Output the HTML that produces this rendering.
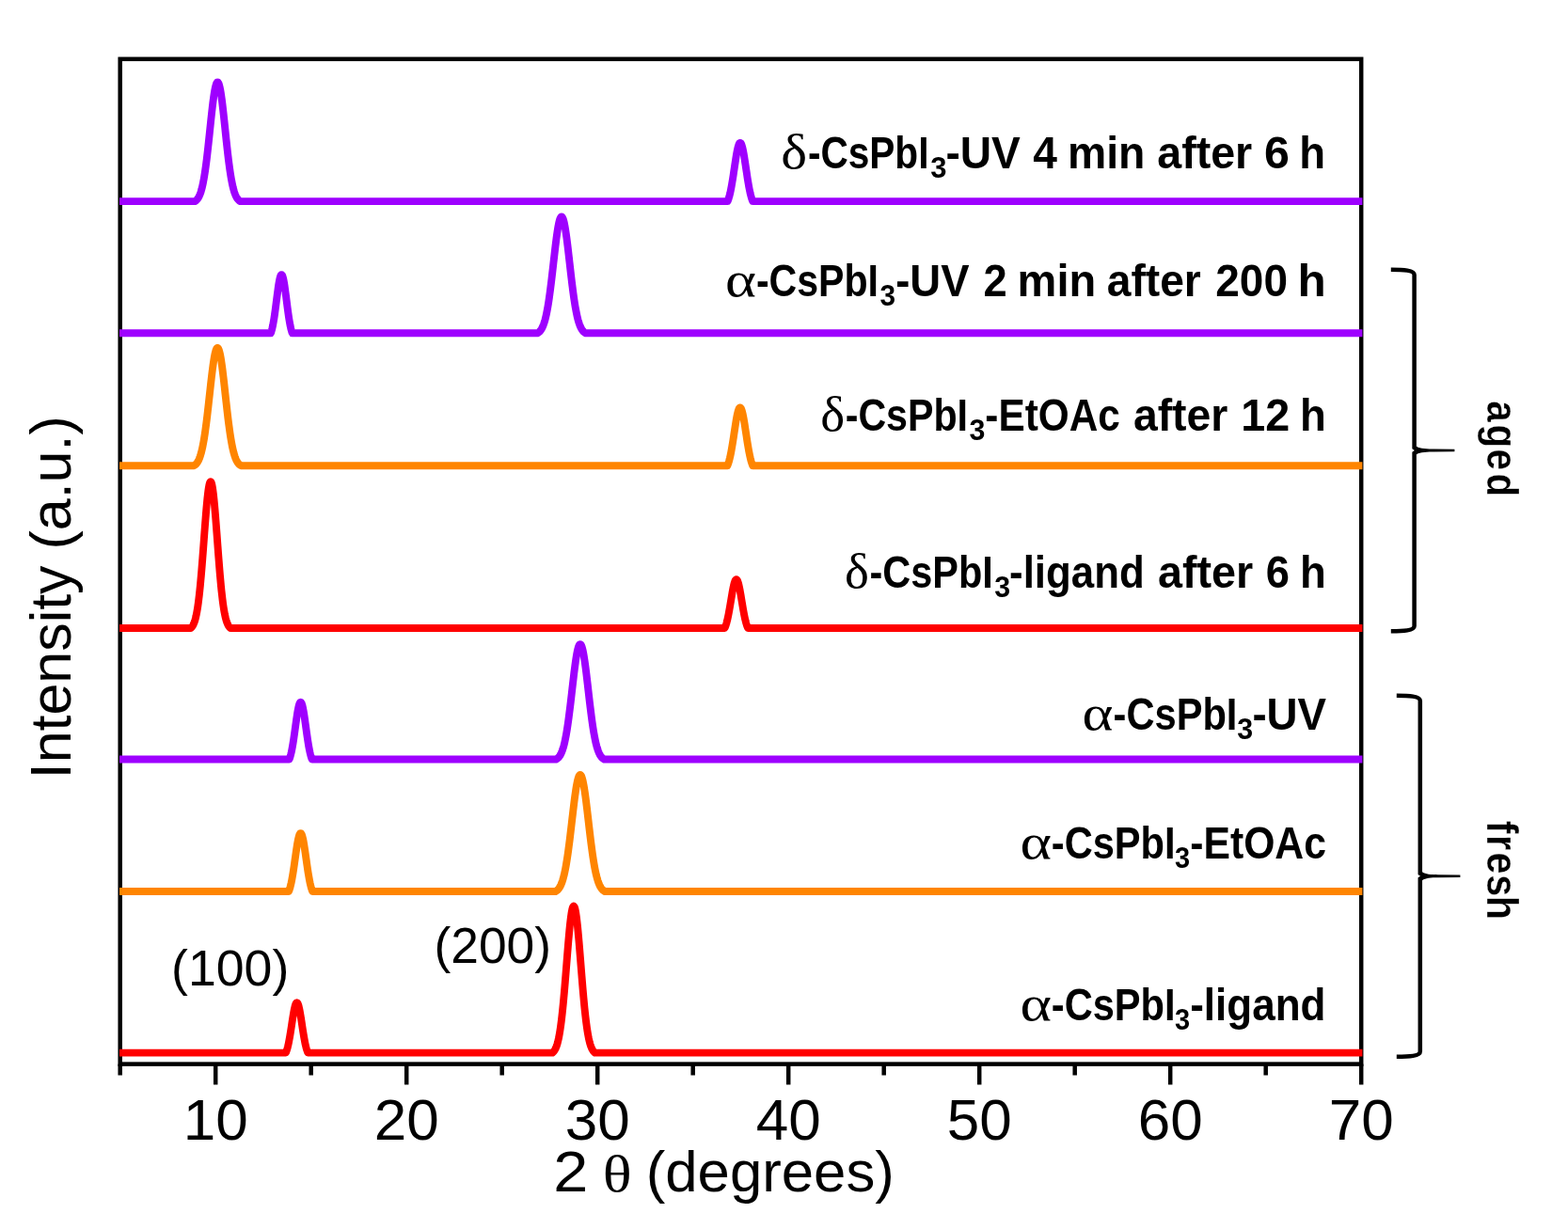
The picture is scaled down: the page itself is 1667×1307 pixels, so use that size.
<!DOCTYPE html>
<html lang="en">
<head>
<meta charset="utf-8">
<style>
html, body { margin: 0; padding: 0; background: #ffffff; }
body { width: 1667px; height: 1307px; overflow: hidden; }
svg { display: block; }
text { fill: #000; }
.ax { font-family: "Liberation Sans", Arial, Helvetica, sans-serif; font-size: 61px; font-kerning: none; }
.lb { font-family: "Liberation Sans", Arial, Helvetica, sans-serif; font-weight: bold; font-size: 48px; font-kerning: none; }
.gk { font-family: "Liberation Serif", "DejaVu Serif", serif; font-weight: normal; font-size: 52px; stroke: none; }
.sb { font-family: "Liberation Sans", Arial, Helvetica, sans-serif; font-weight: bold; font-size: 32px; font-kerning: none; }
.th { font-family: "Liberation Serif", "DejaVu Serif", serif; font-size: 55px; }
.hk { font-family: "Liberation Sans", Arial, Helvetica, sans-serif; font-size: 54px; font-kerning: none; }
.rt { font-family: "Liberation Sans", Arial, Helvetica, sans-serif; font-weight: bold; font-size: 46px; font-kerning: none; stroke: #fff; stroke-width: 0.3px; }
</style>
</head>
<body>
<svg width="1667" height="1307" viewBox="0 0 1667 1307">
<rect x="0" y="0" width="1667" height="1307" fill="#ffffff"/>

<g stroke="#000" stroke-width="4.5" fill="none" stroke-linecap="butt">
<rect x="127.7" y="62.8" width="1319.5" height="1068.8"/>
<line x1="127.70" y1="1131.6" x2="127.70" y2="1143.5"/>
<line x1="229.20" y1="1131.6" x2="229.20" y2="1153.5"/>
<line x1="330.70" y1="1131.6" x2="330.70" y2="1143.5"/>
<line x1="432.20" y1="1131.6" x2="432.20" y2="1153.5"/>
<line x1="533.70" y1="1131.6" x2="533.70" y2="1143.5"/>
<line x1="635.20" y1="1131.6" x2="635.20" y2="1153.5"/>
<line x1="736.70" y1="1131.6" x2="736.70" y2="1143.5"/>
<line x1="838.20" y1="1131.6" x2="838.20" y2="1153.5"/>
<line x1="939.70" y1="1131.6" x2="939.70" y2="1143.5"/>
<line x1="1041.20" y1="1131.6" x2="1041.20" y2="1153.5"/>
<line x1="1142.70" y1="1131.6" x2="1142.70" y2="1143.5"/>
<line x1="1244.20" y1="1131.6" x2="1244.20" y2="1153.5"/>
<line x1="1345.70" y1="1131.6" x2="1345.70" y2="1143.5"/>
<line x1="1447.20" y1="1131.6" x2="1447.20" y2="1153.5"/>
</g>
<g fill="none" stroke-width="7.9" stroke-linejoin="round" stroke-linecap="butt">
<path stroke="#9e00ff" d="M127.00,214.10 L207.21,214.10 L207.71,213.79 L208.21,213.43 L208.71,213.01 L209.22,212.52 L209.72,211.95 L210.22,211.30 L210.72,210.55 L211.22,209.69 L211.73,208.72 L212.23,207.62 L212.73,206.38 L213.23,204.98 L213.73,203.43 L214.24,201.70 L214.74,199.79 L215.24,197.68 L215.74,195.37 L216.24,192.85 L216.75,190.12 L217.25,187.17 L217.75,184.00 L218.25,180.61 L218.75,177.01 L219.25,173.19 L219.76,169.19 L220.26,165.00 L220.76,160.64 L221.26,156.14 L221.76,151.51 L222.27,146.79 L222.77,142.00 L223.27,137.19 L223.77,132.38 L224.27,127.61 L224.78,122.93 L225.28,118.37 L225.78,113.98 L226.28,109.80 L226.78,105.87 L227.28,102.23 L227.79,98.91 L228.29,95.96 L228.79,93.41 L229.29,91.28 L229.79,89.60 L230.30,88.38 L230.80,87.65 L231.30,87.40 L231.80,87.65 L232.30,88.38 L232.81,89.60 L233.31,91.28 L233.81,93.41 L234.31,95.96 L234.81,98.91 L235.32,102.23 L235.82,105.87 L236.32,109.80 L236.82,113.98 L237.32,118.37 L237.82,122.93 L238.33,127.61 L238.83,132.38 L239.33,137.19 L239.83,142.00 L240.33,146.79 L240.84,151.51 L241.34,156.14 L241.84,160.64 L242.34,165.00 L242.84,169.19 L243.35,173.19 L243.85,177.01 L244.35,180.61 L244.85,184.00 L245.35,187.17 L245.85,190.12 L246.36,192.85 L246.86,195.37 L247.36,197.68 L247.86,199.79 L248.36,201.70 L248.87,203.43 L249.37,204.98 L249.87,206.38 L250.37,207.62 L250.87,208.72 L251.38,209.69 L251.88,210.55 L252.38,211.30 L252.88,211.95 L253.38,212.52 L253.89,213.01 L254.39,213.43 L254.89,213.79 L255.39,214.10 L773.60,214.10 L774.10,212.81 L774.60,211.35 L775.10,209.70 L775.60,207.86 L776.11,205.82 L776.61,203.57 L777.11,201.13 L777.61,198.49 L778.11,195.66 L778.62,192.67 L779.12,189.54 L779.62,186.28 L780.12,182.94 L780.62,179.55 L781.13,176.16 L781.63,172.80 L782.13,169.53 L782.63,166.40 L783.13,163.46 L783.64,160.75 L784.14,158.34 L784.64,156.25 L785.14,154.53 L785.64,153.20 L786.15,152.31 L786.65,151.86 L787.15,151.86 L787.65,152.31 L788.16,153.20 L788.66,154.53 L789.16,156.25 L789.66,158.34 L790.16,160.75 L790.67,163.46 L791.17,166.40 L791.67,169.53 L792.17,172.80 L792.67,176.16 L793.18,179.55 L793.68,182.94 L794.18,186.28 L794.68,189.54 L795.18,192.67 L795.69,195.66 L796.19,198.49 L796.69,201.13 L797.19,203.57 L797.69,205.82 L798.20,207.86 L798.70,209.70 L799.20,211.35 L799.70,212.81 L800.20,214.10 L1448.40,214.10"/>
<path stroke="#9e00ff" d="M127.00,354.30 L287.93,354.30 L288.43,352.77 L288.94,350.99 L289.44,348.95 L289.95,346.64 L290.45,344.05 L290.96,341.18 L291.46,338.04 L291.97,334.65 L292.48,331.04 L292.98,327.26 L293.49,323.34 L293.99,319.35 L294.50,315.37 L295.00,311.46 L295.51,307.70 L296.01,304.18 L296.52,300.98 L297.03,298.18 L297.53,295.85 L298.04,294.04 L298.54,292.80 L299.05,292.18 L299.55,292.18 L300.06,292.80 L300.56,294.04 L301.07,295.85 L301.57,298.18 L302.08,300.98 L302.59,304.18 L303.09,307.70 L303.60,311.46 L304.10,315.37 L304.61,319.35 L305.11,323.34 L305.62,327.26 L306.12,331.04 L306.63,334.65 L307.14,338.04 L307.64,341.18 L308.15,344.05 L308.65,346.64 L309.16,348.95 L309.66,350.99 L310.17,352.77 L310.67,354.30 L571.42,354.30 L571.92,354.02 L572.43,353.69 L572.93,353.31 L573.43,352.88 L573.93,352.37 L574.43,351.80 L574.93,351.15 L575.43,350.40 L575.94,349.56 L576.44,348.62 L576.94,347.56 L577.44,346.37 L577.94,345.05 L578.44,343.59 L578.95,341.97 L579.45,340.20 L579.95,338.25 L580.45,336.14 L580.95,333.84 L581.45,331.35 L581.95,328.68 L582.46,325.82 L582.96,322.77 L583.46,319.53 L583.96,316.11 L584.46,312.51 L584.96,308.75 L585.46,304.84 L585.97,300.78 L586.47,296.61 L586.97,292.33 L587.47,287.98 L587.97,283.58 L588.47,279.15 L588.98,274.72 L589.48,270.34 L589.98,266.02 L590.48,261.80 L590.98,257.71 L591.48,253.80 L591.98,250.09 L592.49,246.62 L592.99,243.42 L593.49,240.52 L593.99,237.94 L594.49,235.72 L594.99,233.86 L595.50,232.40 L596.00,231.35 L596.50,230.71 L597.00,230.50 L597.50,230.71 L598.00,231.35 L598.50,232.40 L599.01,233.86 L599.51,235.72 L600.01,237.94 L600.51,240.52 L601.01,243.42 L601.51,246.62 L602.02,250.09 L602.52,253.80 L603.02,257.71 L603.52,261.80 L604.02,266.02 L604.52,270.34 L605.02,274.72 L605.53,279.15 L606.03,283.58 L606.53,287.98 L607.03,292.33 L607.53,296.61 L608.03,300.78 L608.54,304.84 L609.04,308.75 L609.54,312.51 L610.04,316.11 L610.54,319.53 L611.04,322.77 L611.54,325.82 L612.05,328.68 L612.55,331.35 L613.05,333.84 L613.55,336.14 L614.05,338.25 L614.55,340.20 L615.05,341.97 L615.56,343.59 L616.06,345.05 L616.56,346.37 L617.06,347.56 L617.56,348.62 L618.06,349.56 L618.57,350.40 L619.07,351.15 L619.57,351.80 L620.07,352.37 L620.57,352.88 L621.07,353.31 L621.57,353.69 L622.08,354.02 L622.58,354.30 L1448.40,354.30"/>
<path stroke="#ff8500" d="M127.00,495.20 L206.22,495.20 L206.72,494.91 L207.23,494.56 L207.73,494.16 L208.24,493.70 L208.74,493.17 L209.25,492.56 L209.75,491.86 L210.25,491.06 L210.76,490.16 L211.26,489.14 L211.77,487.99 L212.27,486.71 L212.78,485.28 L213.28,483.69 L213.79,481.94 L214.29,480.01 L214.80,477.89 L215.30,475.59 L215.81,473.08 L216.31,470.38 L216.82,467.47 L217.32,464.36 L217.83,461.05 L218.33,457.54 L218.83,453.84 L219.34,449.96 L219.84,445.91 L220.35,441.71 L220.85,437.37 L221.36,432.93 L221.86,428.40 L222.37,423.81 L222.87,419.20 L223.38,414.59 L223.88,410.02 L224.39,405.52 L224.89,401.14 L225.40,396.91 L225.90,392.87 L226.41,389.05 L226.91,385.49 L227.41,382.23 L227.92,379.30 L228.42,376.73 L228.93,374.55 L229.43,372.77 L229.94,371.42 L230.44,370.51 L230.95,370.06 L231.45,370.06 L231.96,370.51 L232.46,371.42 L232.97,372.77 L233.47,374.55 L233.98,376.73 L234.48,379.30 L234.99,382.23 L235.49,385.49 L235.99,389.05 L236.50,392.87 L237.00,396.91 L237.51,401.14 L238.01,405.52 L238.52,410.02 L239.02,414.59 L239.53,419.20 L240.03,423.81 L240.54,428.40 L241.04,432.93 L241.55,437.37 L242.05,441.71 L242.56,445.91 L243.06,449.96 L243.57,453.84 L244.07,457.54 L244.57,461.05 L245.08,464.36 L245.58,467.47 L246.09,470.38 L246.59,473.08 L247.10,475.59 L247.60,477.89 L248.11,480.01 L248.61,481.94 L249.12,483.69 L249.62,485.28 L250.13,486.71 L250.63,487.99 L251.14,489.14 L251.64,490.16 L252.15,491.06 L252.65,491.86 L253.15,492.56 L253.66,493.17 L254.16,493.70 L254.67,494.16 L255.17,494.56 L255.68,494.91 L256.18,495.20 L773.39,495.20 L773.89,493.92 L774.40,492.47 L774.91,490.84 L775.41,489.01 L775.92,486.98 L776.42,484.76 L776.93,482.33 L777.44,479.71 L777.94,476.91 L778.45,473.94 L778.96,470.83 L779.46,467.60 L779.97,464.29 L780.47,460.93 L780.98,457.56 L781.49,454.23 L781.99,450.99 L782.50,447.88 L783.00,444.97 L783.51,442.28 L784.02,439.88 L784.52,437.81 L785.03,436.10 L785.53,434.79 L786.04,433.90 L786.55,433.46 L787.05,433.46 L787.56,433.90 L788.07,434.79 L788.57,436.10 L789.08,437.81 L789.58,439.88 L790.09,442.28 L790.60,444.97 L791.10,447.88 L791.61,450.99 L792.11,454.23 L792.62,457.56 L793.13,460.93 L793.63,464.29 L794.14,467.60 L794.64,470.83 L795.15,473.94 L795.66,476.91 L796.16,479.71 L796.67,482.33 L797.18,484.76 L797.68,486.98 L798.19,489.01 L798.69,490.84 L799.20,492.47 L799.71,493.92 L800.21,495.20 L1448.40,495.20"/>
<path stroke="#ff0000" d="M127.00,668.00 L202.78,668.00 L203.29,667.56 L203.79,667.04 L204.29,666.41 L204.79,665.67 L205.30,664.80 L205.80,663.77 L206.30,662.58 L206.81,661.20 L207.31,659.61 L207.81,657.79 L208.31,655.72 L208.82,653.38 L209.32,650.75 L209.82,647.81 L210.33,644.54 L210.83,640.94 L211.33,636.99 L211.83,632.69 L212.34,628.03 L212.84,623.03 L213.34,617.70 L213.84,612.05 L214.35,606.11 L214.85,599.91 L215.35,593.49 L215.86,586.90 L216.36,580.19 L216.86,573.42 L217.36,566.67 L217.87,559.99 L218.37,553.47 L218.87,547.17 L219.38,541.18 L219.88,535.58 L220.38,530.43 L220.88,525.81 L221.39,521.78 L221.89,518.40 L222.39,515.72 L222.89,513.77 L223.40,512.59 L223.90,512.20 L224.40,512.59 L224.91,513.77 L225.41,515.72 L225.91,518.40 L226.41,521.78 L226.92,525.81 L227.42,530.43 L227.92,535.58 L228.42,541.18 L228.93,547.17 L229.43,553.47 L229.93,559.99 L230.44,566.67 L230.94,573.42 L231.44,580.19 L231.94,586.90 L232.45,593.49 L232.95,599.91 L233.45,606.11 L233.96,612.05 L234.46,617.70 L234.96,623.03 L235.46,628.03 L235.97,632.69 L236.47,636.99 L236.97,640.94 L237.47,644.54 L237.98,647.81 L238.48,650.75 L238.98,653.38 L239.49,655.72 L239.99,657.79 L240.49,659.61 L240.99,661.20 L241.50,662.58 L242.00,663.77 L242.50,664.80 L243.01,665.67 L243.51,666.41 L244.01,667.04 L244.51,667.56 L245.02,668.00 L770.46,668.00 L770.96,666.84 L771.47,665.50 L771.97,663.98 L772.48,662.28 L772.98,660.37 L773.48,658.27 L773.99,655.98 L774.49,653.50 L774.99,650.86 L775.50,648.06 L776.00,645.15 L776.50,642.15 L777.01,639.10 L777.51,636.05 L778.02,633.04 L778.52,630.13 L779.02,627.37 L779.53,624.81 L780.03,622.51 L780.53,620.50 L781.04,618.84 L781.54,617.56 L782.04,616.69 L782.55,616.26 L783.05,616.26 L783.56,616.69 L784.06,617.56 L784.56,618.84 L785.07,620.50 L785.57,622.51 L786.07,624.81 L786.58,627.37 L787.08,630.13 L787.58,633.04 L788.09,636.05 L788.59,639.10 L789.10,642.15 L789.60,645.15 L790.10,648.06 L790.61,650.86 L791.11,653.50 L791.61,655.98 L792.12,658.27 L792.62,660.37 L793.12,662.28 L793.63,663.98 L794.13,665.50 L794.64,666.84 L795.14,668.00 L1448.40,668.00"/>
<path stroke="#9e00ff" d="M127.00,807.50 L307.58,807.50 L308.08,806.10 L308.58,804.50 L309.08,802.67 L309.59,800.60 L310.09,798.30 L310.59,795.76 L311.09,792.98 L311.59,789.98 L312.09,786.77 L312.59,783.40 L313.09,779.88 L313.59,776.27 L314.09,772.61 L314.59,768.96 L315.09,765.39 L315.59,761.95 L316.09,758.72 L316.60,755.75 L317.10,753.13 L317.60,750.89 L318.10,749.09 L318.60,747.77 L319.10,746.97 L319.60,746.70 L320.10,746.97 L320.60,747.77 L321.10,749.09 L321.60,750.89 L322.10,753.13 L322.60,755.75 L323.11,758.72 L323.61,761.95 L324.11,765.39 L324.61,768.96 L325.11,772.61 L325.61,776.27 L326.11,779.88 L326.61,783.40 L327.11,786.77 L327.61,789.98 L328.11,792.98 L328.61,795.76 L329.11,798.30 L329.61,800.60 L330.12,802.67 L330.62,804.50 L331.12,806.10 L331.62,807.50 L591.22,807.50 L591.72,807.22 L592.23,806.90 L592.73,806.52 L593.23,806.09 L593.73,805.60 L594.23,805.03 L594.73,804.38 L595.23,803.65 L595.74,802.82 L596.24,801.88 L596.74,800.83 L597.24,799.66 L597.74,798.35 L598.24,796.91 L598.75,795.31 L599.25,793.56 L599.75,791.64 L600.25,789.54 L600.75,787.27 L601.25,784.81 L601.75,782.17 L602.26,779.34 L602.76,776.32 L603.26,773.12 L603.76,769.74 L604.26,766.18 L604.76,762.47 L605.26,758.59 L605.77,754.59 L606.27,750.46 L606.77,746.23 L607.27,741.93 L607.77,737.58 L608.27,733.20 L608.78,728.82 L609.28,724.49 L609.78,720.21 L610.28,716.04 L610.78,712.01 L611.28,708.14 L611.78,704.47 L612.29,701.04 L612.79,697.87 L613.29,695.00 L613.79,692.46 L614.29,690.26 L614.79,688.43 L615.30,686.98 L615.80,685.94 L616.30,685.31 L616.80,685.10 L617.30,685.31 L617.80,685.94 L618.30,686.98 L618.81,688.43 L619.31,690.26 L619.81,692.46 L620.31,695.00 L620.81,697.87 L621.31,701.04 L621.82,704.47 L622.32,708.14 L622.82,712.01 L623.32,716.04 L623.82,720.21 L624.32,724.49 L624.82,728.82 L625.33,733.20 L625.83,737.58 L626.33,741.93 L626.83,746.23 L627.33,750.46 L627.83,754.59 L628.34,758.59 L628.84,762.47 L629.34,766.18 L629.84,769.74 L630.34,773.12 L630.84,776.32 L631.34,779.34 L631.85,782.17 L632.35,784.81 L632.85,787.27 L633.35,789.54 L633.85,791.64 L634.35,793.56 L634.85,795.31 L635.36,796.91 L635.86,798.35 L636.36,799.66 L636.86,800.83 L637.36,801.88 L637.86,802.82 L638.37,803.65 L638.87,804.38 L639.37,805.03 L639.87,805.60 L640.37,806.09 L640.87,806.52 L641.37,806.90 L641.88,807.22 L642.38,807.50 L1448.40,807.50"/>
<path stroke="#ff8500" d="M127.00,948.00 L307.05,948.00 L307.55,946.64 L308.05,945.08 L308.55,943.32 L309.05,941.33 L309.56,939.12 L310.06,936.69 L310.56,934.03 L311.06,931.16 L311.57,928.10 L312.07,924.86 L312.57,921.47 L313.07,917.98 L313.57,914.42 L314.08,910.84 L314.58,907.30 L315.08,903.85 L315.58,900.55 L316.08,897.46 L316.59,894.64 L317.09,892.15 L317.59,890.04 L318.09,888.34 L318.60,887.11 L319.10,886.35 L319.60,886.10 L320.10,886.35 L320.60,887.11 L321.11,888.34 L321.61,890.04 L322.11,892.15 L322.61,894.64 L323.12,897.46 L323.62,900.55 L324.12,903.85 L324.62,907.30 L325.12,910.84 L325.63,914.42 L326.13,917.98 L326.63,921.47 L327.13,924.86 L327.63,928.10 L328.14,931.16 L328.64,934.03 L329.14,936.69 L329.64,939.12 L330.15,941.33 L330.65,943.32 L331.15,945.08 L331.65,946.64 L332.15,948.00 L590.63,948.00 L591.13,947.72 L591.63,947.40 L592.14,947.03 L592.64,946.61 L593.14,946.12 L593.65,945.57 L594.15,944.93 L594.65,944.22 L595.16,943.41 L595.66,942.50 L596.16,941.48 L596.67,940.34 L597.17,939.08 L597.67,937.68 L598.18,936.13 L598.68,934.44 L599.18,932.58 L599.69,930.56 L600.19,928.37 L600.69,926.00 L601.20,923.44 L601.70,920.71 L602.20,917.79 L602.71,914.69 L603.21,911.42 L603.71,907.97 L604.22,904.35 L604.72,900.58 L605.22,896.68 L605.73,892.64 L606.23,888.50 L606.73,884.27 L607.24,879.97 L607.74,875.63 L608.24,871.28 L608.75,866.94 L609.25,862.64 L609.75,858.42 L610.26,854.31 L610.76,850.34 L611.26,846.54 L611.77,842.94 L612.27,839.57 L612.77,836.47 L613.28,833.67 L613.78,831.18 L614.28,829.03 L614.79,827.24 L615.29,825.83 L615.79,824.82 L616.30,824.21 L616.80,824.00 L617.30,824.21 L617.81,824.82 L618.31,825.83 L618.81,827.24 L619.32,829.03 L619.82,831.18 L620.32,833.67 L620.83,836.47 L621.33,839.57 L621.83,842.94 L622.34,846.54 L622.84,850.34 L623.34,854.31 L623.85,858.42 L624.35,862.64 L624.85,866.94 L625.36,871.28 L625.86,875.63 L626.36,879.97 L626.87,884.27 L627.37,888.50 L627.87,892.64 L628.38,896.68 L628.88,900.58 L629.38,904.35 L629.89,907.97 L630.39,911.42 L630.89,914.69 L631.40,917.79 L631.90,920.71 L632.40,923.44 L632.91,926.00 L633.41,928.37 L633.91,930.56 L634.42,932.58 L634.92,934.44 L635.42,936.13 L635.93,937.68 L636.43,939.08 L636.93,940.34 L637.44,941.48 L637.94,942.50 L638.44,943.41 L638.95,944.22 L639.45,944.93 L639.95,945.57 L640.46,946.12 L640.96,946.61 L641.46,947.03 L641.97,947.40 L642.47,947.72 L642.97,948.00 L1448.40,948.00"/>
<path stroke="#ff0000" d="M127.00,1119.60 L303.90,1119.60 L304.41,1118.32 L304.92,1116.83 L305.43,1115.13 L305.94,1113.21 L306.45,1111.05 L306.96,1108.67 L307.46,1106.06 L307.97,1103.25 L308.48,1100.25 L308.99,1097.10 L309.50,1093.83 L310.01,1090.49 L310.51,1087.14 L311.02,1083.83 L311.53,1080.63 L312.04,1077.60 L312.55,1074.81 L313.06,1072.32 L313.57,1070.19 L314.07,1068.48 L314.58,1067.22 L315.09,1066.46 L315.60,1066.20 L316.11,1066.46 L316.62,1067.22 L317.13,1068.48 L317.63,1070.19 L318.14,1072.32 L318.65,1074.81 L319.16,1077.60 L319.67,1080.63 L320.18,1083.83 L320.69,1087.14 L321.19,1090.49 L321.70,1093.83 L322.21,1097.10 L322.72,1100.25 L323.23,1103.25 L323.74,1106.06 L324.24,1108.67 L324.75,1111.05 L325.26,1113.21 L325.77,1115.13 L326.28,1116.83 L326.79,1118.32 L327.30,1119.60 L587.30,1119.60 L587.80,1119.19 L588.30,1118.71 L588.80,1118.14 L589.31,1117.48 L589.81,1116.70 L590.31,1115.80 L590.81,1114.75 L591.31,1113.56 L591.82,1112.18 L592.32,1110.62 L592.82,1108.85 L593.32,1106.86 L593.83,1104.63 L594.33,1102.14 L594.83,1099.38 L595.33,1096.34 L595.84,1093.00 L596.34,1089.37 L596.84,1085.42 L597.34,1081.17 L597.84,1076.62 L598.35,1071.77 L598.85,1066.63 L599.35,1061.23 L599.85,1055.59 L600.36,1049.73 L600.86,1043.68 L601.36,1037.50 L601.86,1031.23 L602.37,1024.90 L602.87,1018.59 L603.37,1012.34 L603.87,1006.21 L604.37,1000.27 L604.88,994.58 L605.38,989.20 L605.88,984.20 L606.38,979.63 L606.89,975.54 L607.39,971.99 L607.89,969.02 L608.39,966.67 L608.90,964.97 L609.40,963.94 L609.90,963.60 L610.40,963.94 L610.90,964.97 L611.41,966.67 L611.91,969.02 L612.41,971.99 L612.91,975.54 L613.42,979.63 L613.92,984.20 L614.42,989.20 L614.92,994.58 L615.43,1000.27 L615.93,1006.21 L616.43,1012.34 L616.93,1018.59 L617.43,1024.90 L617.94,1031.23 L618.44,1037.50 L618.94,1043.68 L619.44,1049.73 L619.95,1055.59 L620.45,1061.23 L620.95,1066.63 L621.45,1071.77 L621.96,1076.62 L622.46,1081.17 L622.96,1085.42 L623.46,1089.37 L623.96,1093.00 L624.47,1096.34 L624.97,1099.38 L625.47,1102.14 L625.97,1104.63 L626.48,1106.86 L626.98,1108.85 L627.48,1110.62 L627.98,1112.18 L628.49,1113.56 L628.99,1114.75 L629.49,1115.80 L629.99,1116.70 L630.49,1117.48 L631.00,1118.14 L631.50,1118.71 L632.00,1119.19 L632.50,1119.60 L1448.40,1119.60"/>
</g>
<g class="ax" text-anchor="middle">
<text x="229.20" y="1212.3" textLength="69" lengthAdjust="spacingAndGlyphs">10</text>
<text x="432.20" y="1212.3" textLength="69" lengthAdjust="spacingAndGlyphs">20</text>
<text x="635.20" y="1212.3" textLength="69" lengthAdjust="spacingAndGlyphs">30</text>
<text x="838.20" y="1212.3" textLength="69" lengthAdjust="spacingAndGlyphs">40</text>
<text x="1041.20" y="1212.3" textLength="69" lengthAdjust="spacingAndGlyphs">50</text>
<text x="1244.20" y="1212.3" textLength="69" lengthAdjust="spacingAndGlyphs">60</text>
<text x="1447.20" y="1212.3" textLength="69" lengthAdjust="spacingAndGlyphs">70</text>
</g>
<text class="ax" y="1267.2"><tspan x="588.24" textLength="37.11" lengthAdjust="spacingAndGlyphs">2</tspan> <tspan class="th" x="640.78" textLength="30.86" lengthAdjust="spacingAndGlyphs">θ</tspan> <tspan x="686.77" textLength="264.05" lengthAdjust="spacingAndGlyphs">(degrees)</tspan></text>
<text class="ax" transform="translate(75.1 828.3) rotate(-90)" textLength="386" lengthAdjust="spacingAndGlyphs">Intensity (a.u.)</text>
<text class="hk" x="182.07" y="1048.3" textLength="125.25" lengthAdjust="spacingAndGlyphs">(100)</text>
<text class="hk" x="461.60" y="1023.6" textLength="124.41" lengthAdjust="spacingAndGlyphs">(200)</text>
<text class="lb"><tspan class="gk" x="830.38" y="179.0" textLength="27.84" lengthAdjust="spacingAndGlyphs">δ</tspan><tspan x="858.92" y="179.0" textLength="128.50" lengthAdjust="spacingAndGlyphs">-CsPbI</tspan><tspan class="sb" x="989.29" y="189.3" textLength="17.23" lengthAdjust="spacingAndGlyphs">3</tspan><tspan x="1005.40" y="179.0" textLength="79.42" lengthAdjust="spacingAndGlyphs">-UV</tspan> <tspan x="1098.20" y="179.0" textLength="25.65" lengthAdjust="spacingAndGlyphs">4</tspan> <tspan x="1134.94" y="179.0" textLength="82.43" lengthAdjust="spacingAndGlyphs">min</tspan> <tspan x="1230.24" y="179.0" textLength="100.97" lengthAdjust="spacingAndGlyphs">after</tspan> <tspan x="1344.03" y="179.0" textLength="26.92" lengthAdjust="spacingAndGlyphs">6</tspan> <tspan x="1381.32" y="179.0" textLength="27.80" lengthAdjust="spacingAndGlyphs">h</tspan></text>
<text class="lb"><tspan class="gk" x="771.11" y="314.9" textLength="32.90" lengthAdjust="spacingAndGlyphs">α</tspan><tspan x="803.90" y="314.9" textLength="130.05" lengthAdjust="spacingAndGlyphs">-CsPbI</tspan><tspan class="sb" x="935.52" y="325.2" textLength="16.56" lengthAdjust="spacingAndGlyphs">3</tspan><tspan x="952.22" y="314.9" textLength="78.29" lengthAdjust="spacingAndGlyphs">-UV</tspan> <tspan x="1045.43" y="314.9" textLength="25.18" lengthAdjust="spacingAndGlyphs">2</tspan> <tspan x="1081.60" y="314.9" textLength="83.62" lengthAdjust="spacingAndGlyphs">min</tspan> <tspan x="1176.75" y="314.9" textLength="100.05" lengthAdjust="spacingAndGlyphs">after</tspan> <tspan x="1292.31" y="314.9" textLength="76.68" lengthAdjust="spacingAndGlyphs">200</tspan> <tspan x="1379.55" y="314.9" textLength="30.22" lengthAdjust="spacingAndGlyphs">h</tspan></text>
<text class="lb"><tspan class="gk" x="872.23" y="457.9" textLength="25.94" lengthAdjust="spacingAndGlyphs">δ</tspan><tspan x="898.69" y="457.9" textLength="130.36" lengthAdjust="spacingAndGlyphs">-CsPbI</tspan><tspan class="sb" x="1030.60" y="468.2" textLength="16.89" lengthAdjust="spacingAndGlyphs">3</tspan><tspan x="1047.35" y="457.9" textLength="143.39" lengthAdjust="spacingAndGlyphs">-EtOAc</tspan> <tspan x="1204.94" y="457.9" textLength="100.36" lengthAdjust="spacingAndGlyphs">after</tspan> <tspan x="1319.26" y="457.9" textLength="51.91" lengthAdjust="spacingAndGlyphs">12</tspan> <tspan x="1382.02" y="457.9" textLength="27.80" lengthAdjust="spacingAndGlyphs">h</tspan></text>
<text class="lb"><tspan class="gk" x="898.13" y="625.1" textLength="25.94" lengthAdjust="spacingAndGlyphs">δ</tspan><tspan x="924.58" y="625.1" textLength="131.19" lengthAdjust="spacingAndGlyphs">-CsPbI</tspan><tspan class="sb" x="1057.30" y="635.4" textLength="16.89" lengthAdjust="spacingAndGlyphs">3</tspan><tspan x="1073.09" y="625.1" textLength="143.70" lengthAdjust="spacingAndGlyphs">-ligand</tspan> <tspan x="1231.03" y="625.1" textLength="101.17" lengthAdjust="spacingAndGlyphs">after</tspan> <tspan x="1345.74" y="625.1" textLength="25.20" lengthAdjust="spacingAndGlyphs">6</tspan> <tspan x="1382.02" y="625.1" textLength="27.80" lengthAdjust="spacingAndGlyphs">h</tspan></text>
<text class="lb"><tspan class="gk" x="1150.51" y="775.7" textLength="32.90" lengthAdjust="spacingAndGlyphs">α</tspan><tspan x="1183.57" y="775.7" textLength="131.81" lengthAdjust="spacingAndGlyphs">-CsPbI</tspan><tspan class="sb" x="1315.20" y="786.0" textLength="16.89" lengthAdjust="spacingAndGlyphs">3</tspan><tspan x="1331.41" y="775.7" textLength="78.70" lengthAdjust="spacingAndGlyphs">-UV</tspan></text>
<text class="lb"><tspan class="gk" x="1084.57" y="912.9" textLength="33.47" lengthAdjust="spacingAndGlyphs">α</tspan><tspan x="1117.77" y="912.9" textLength="131.81" lengthAdjust="spacingAndGlyphs">-CsPbI</tspan><tspan class="sb" x="1248.94" y="923.2" textLength="16.11" lengthAdjust="spacingAndGlyphs">3</tspan><tspan x="1265.23" y="912.9" textLength="144.72" lengthAdjust="spacingAndGlyphs">-EtOAc</tspan></text>
<text class="lb"><tspan class="gk" x="1084.57" y="1085.1" textLength="33.47" lengthAdjust="spacingAndGlyphs">α</tspan><tspan x="1117.77" y="1085.1" textLength="131.81" lengthAdjust="spacingAndGlyphs">-CsPbI</tspan><tspan class="sb" x="1248.94" y="1095.4" textLength="16.11" lengthAdjust="spacingAndGlyphs">3</tspan><tspan x="1265.18" y="1085.1" textLength="144.32" lengthAdjust="spacingAndGlyphs">-ligand</tspan></text>
<path d="M1478.8,286.8 C1491.8,286.8 1503.6,287.4 1503.6,292.3 L1503.6,665.7 C1503.6,670.6 1491.8,671.2 1478.8,671.2" fill="none" stroke="#000" stroke-width="4.5"/>
<path d="M1505.3,474.0 C1507.3,476.6 1514.6,477.5 1522.6,477.5 L1546.4,477.7 L1546.4,480.3 L1522.6,480.5 C1514.6,480.5 1507.3,481.4 1505.3,484.0 Z" fill="#000" stroke="none"/>
<path d="M1500.8,477.1 L1503.9,479.0 L1500.8,480.9 Z" fill="#fff" stroke="none"/>
<path d="M1484.8,739.8 C1497.8,739.8 1509.8,740.4 1509.8,745.3 L1509.8,1118.3 C1509.8,1123.2 1497.8,1123.8 1484.8,1123.8" fill="none" stroke="#000" stroke-width="4.5"/>
<path d="M1511.5,926.7 C1513.5,929.3 1520.8,930.2 1528.8,930.2 L1552.4,930.4 L1552.4,933.0 L1528.8,933.2 C1520.8,933.2 1513.5,934.1 1511.5,936.7 Z" fill="#000" stroke="none"/>
<path d="M1507.0,929.8 L1510.1,931.7 L1507.0,933.6 Z" fill="#fff" stroke="none"/>
<text class="rt" transform="translate(1580.6 0) rotate(90) scale(0.8780 1)" x="485.44 514.13 543.95 573.45" y="0">aged</text>
<text class="rt" transform="translate(1580.5 0) rotate(90) scale(0.8988 1)" x="971.05 987.88 1008.57 1035.13 1060.09" y="0">fresh</text>
</svg>
</body>
</html>
